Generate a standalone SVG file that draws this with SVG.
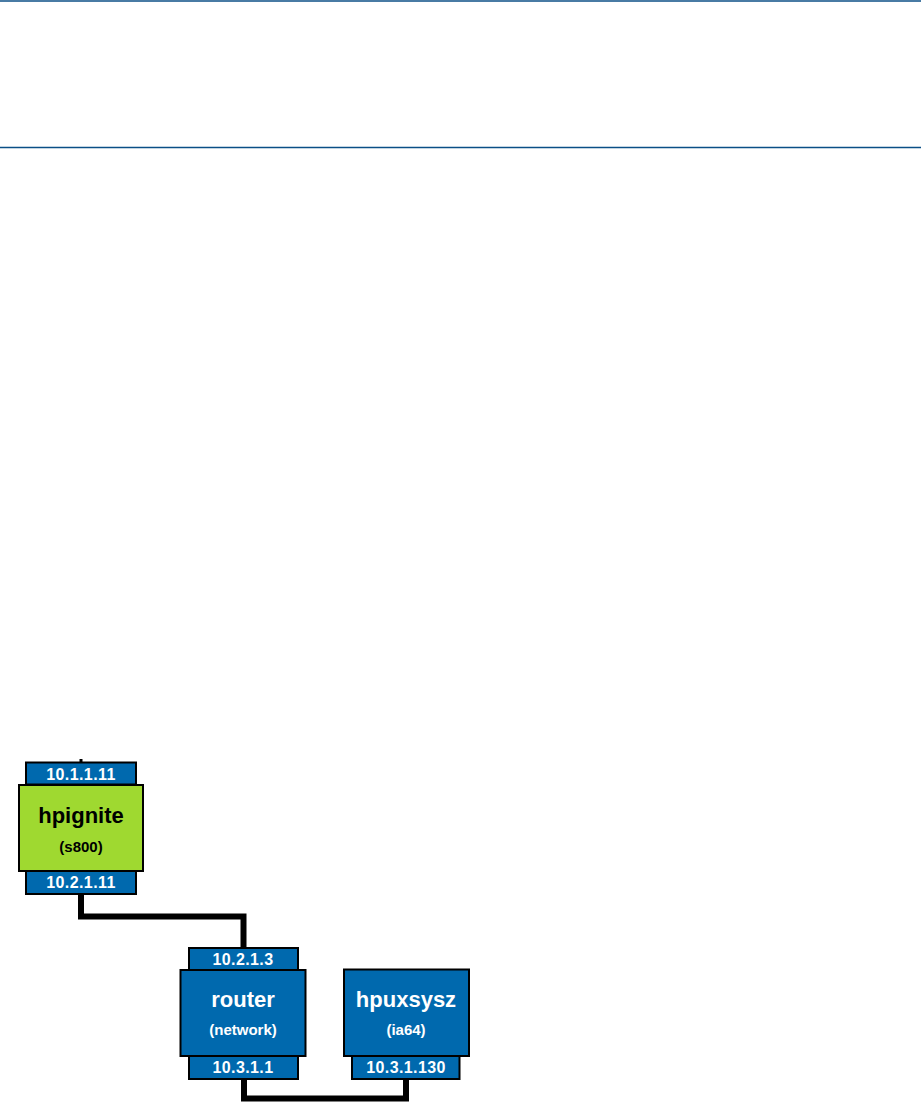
<svg xmlns="http://www.w3.org/2000/svg" width="921" height="1104" viewBox="0 0 921 1104">
<style>
.port{fill:#0069ae;stroke:#000;stroke-width:2}
.box{stroke:#000;stroke-width:2}
.blue{fill:#0069ae}
.green{fill:#9fd930}
.pt{font-family:"Liberation Sans",Arial,sans-serif;font-weight:bold;font-size:16px;letter-spacing:0.4px;fill:#fff;text-anchor:middle}
.nm{font-family:"Liberation Sans",Arial,sans-serif;font-weight:bold;font-size:22px;text-anchor:middle}
.sub{font-family:"Liberation Sans",Arial,sans-serif;font-weight:bold;font-size:15px;text-anchor:middle}
.wire{fill:none;stroke:#000;stroke-width:6;stroke-linejoin:miter;stroke-linecap:butt}
.rule{stroke:#0b4f86;stroke-width:1.5}
</style>
<rect width="921" height="1104" fill="#fff"/>
<line class="rule" x1="0" y1="1" x2="921" y2="1"/>
<line class="rule" x1="0" y1="147.5" x2="921" y2="147.5"/>
<g id="connectors">
<line x1="81" y1="759" x2="81" y2="763" stroke="#000" stroke-width="3"/>
<polyline class="wire" points="81,894 81,916.5 243.5,916.5 243.5,948"/>
<polyline class="wire" points="244,1079 244,1098.5 406,1098.5 406,1079"/>
</g>
<g id="hpignite">
<rect class="port" x="26" y="762.5" width="110" height="22"/>
<text class="pt" x="81" y="779.5">10.1.1.11</text>
<rect class="box green" x="19" y="785" width="124" height="86"/>
<text class="nm" x="81" y="823">hpignite</text>
<text class="sub" x="81" y="852">(s800)</text>
<rect class="port" x="26" y="871" width="110" height="23"/>
<text class="pt" x="81" y="887.5">10.2.1.11</text>
</g>
<g id="router">
<rect class="port" x="189" y="948" width="109" height="22"/>
<text class="pt" x="243" y="964.5">10.2.1.3</text>
<rect class="box blue" x="180.5" y="970" width="125" height="86"/>
<text class="nm" x="243" y="1007" fill="#fff">router</text>
<text class="sub" x="243" y="1035" fill="#fff">(network)</text>
<rect class="port" x="189" y="1056" width="109" height="23"/>
<text class="pt" x="243" y="1072.5">10.3.1.1</text>
</g>
<g id="hpuxsysz">
<rect class="box blue" x="344" y="969.5" width="125" height="86.5"/>
<text class="nm" x="406" y="1007" fill="#fff">hpuxsysz</text>
<text class="sub" x="406" y="1035" fill="#fff">(ia64)</text>
<rect class="port" x="352" y="1056" width="107.5" height="23"/>
<text class="pt" x="406" y="1072.5">10.3.1.130</text>
</g>
</svg>
